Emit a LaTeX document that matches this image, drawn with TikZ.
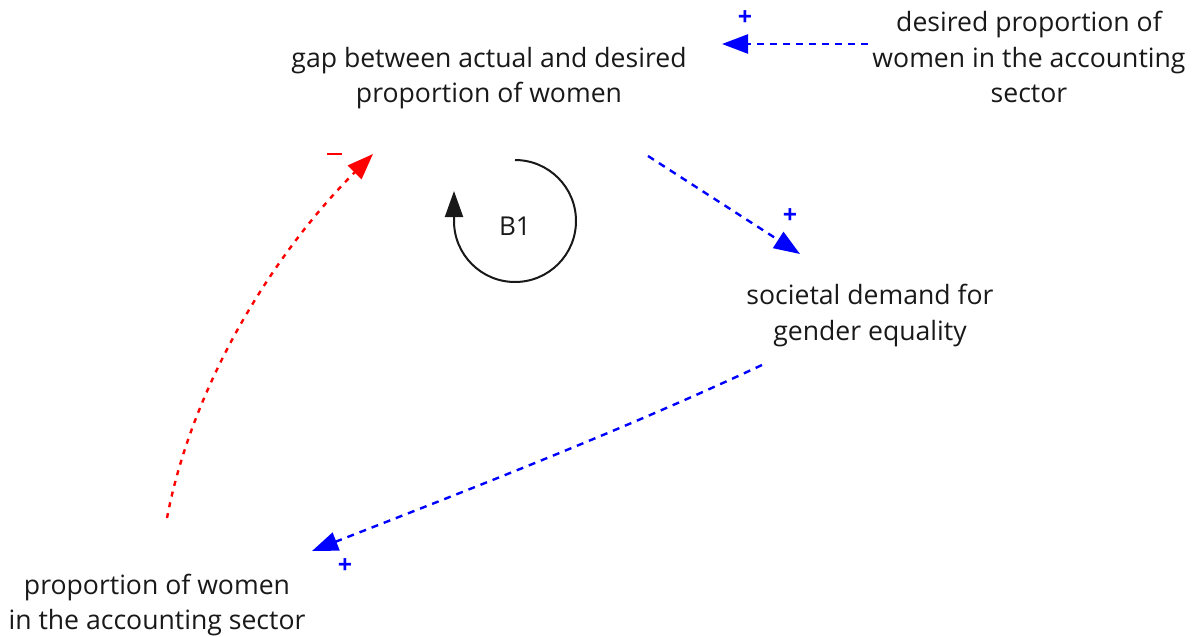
\documentclass[tikz,border=0pt]{standalone}
\usepackage{fontspec}
\setmainfont{Open Sans}
\usetikzlibrary{arrows.meta,calc}
\begin{document}
\begin{tikzpicture}[x=1pt,y=-1pt,
  lbl/.style={align=center,inner sep=0pt,font=\fontsize{26.6}{35.5}\selectfont,text=black!90},
  poslink/.style={dash pattern=on 7pt off 6pt,line width=2.4pt,blue,-{Triangle[length=26pt,width=19pt]}},
  neglink/.style={dash pattern=on 5pt off 6pt,line width=2.4pt,red,-{Triangle[length=26pt,width=19pt]}},
  plussign/.style={blue,font=\fontsize{25}{25}\selectfont\bfseries,inner sep=0pt},
  minussign/.style={red,inner sep=0pt}]
\useasboundingbox (0,0) rectangle (1195,637);
\node[lbl] (gap) at (489,78) {gap between actual and desired\\proportion of women};
\node[lbl] (des) at (1029,57) {desired proportion of\\women in the accounting\\sector};
\node[lbl] (soc) at (870,315.5) {societal demand for\\gender equality};
\node[lbl] (prop) at (157,605) {proportion of women\\in the accounting sector};
\node[font=\fontsize{26}{26}\selectfont,text=black!90,inner sep=0pt] (b1) at (515,226) {B1};
% connector end points tied to nodes
\coordinate (d1) at ($(des)+(-161,-13)$);
\coordinate (g1) at ($(gap)+(233,-34)$);
\coordinate (g2) at ($(gap)+(159,78)$);
\coordinate (s1) at ($(soc)+(-70,-61.5)$);
\coordinate (s2) at ($(soc)+(-108,49.5)$);
\coordinate (p1) at ($(prop)+(155,-54)$);
\coordinate (p2) at ($(prop)+(10,-87)$);
\coordinate (g3) at ($(gap)+(-116,76)$);
\draw[poslink] (d1) -- (g1);
\draw[poslink] (g2) -- (s1);
\draw[poslink] (s2) .. controls ++(-150,70) and ++(140,-55) .. (p1);
\draw[neglink] (p2) .. controls ++(26,-136) and ++(-98,98) .. (g3);
\node[plussign] (pl1) at (745,18) {+};
\node[plussign] (pl2) at (790,216) {+};
\node[plussign] (pl3) at (345,566) {+};
\node[minussign] (mi1) at (334,154) {\rule{15pt}{2.8pt}};
% loop symbol
\draw[line width=2pt,black!90,-{Triangle[length=26pt,width=18pt]}] ($(b1)+(0,-66)$) arc[start angle=-90,end angle=180,radius=61] -- ++(0,-30);
\end{tikzpicture}
\end{document}
